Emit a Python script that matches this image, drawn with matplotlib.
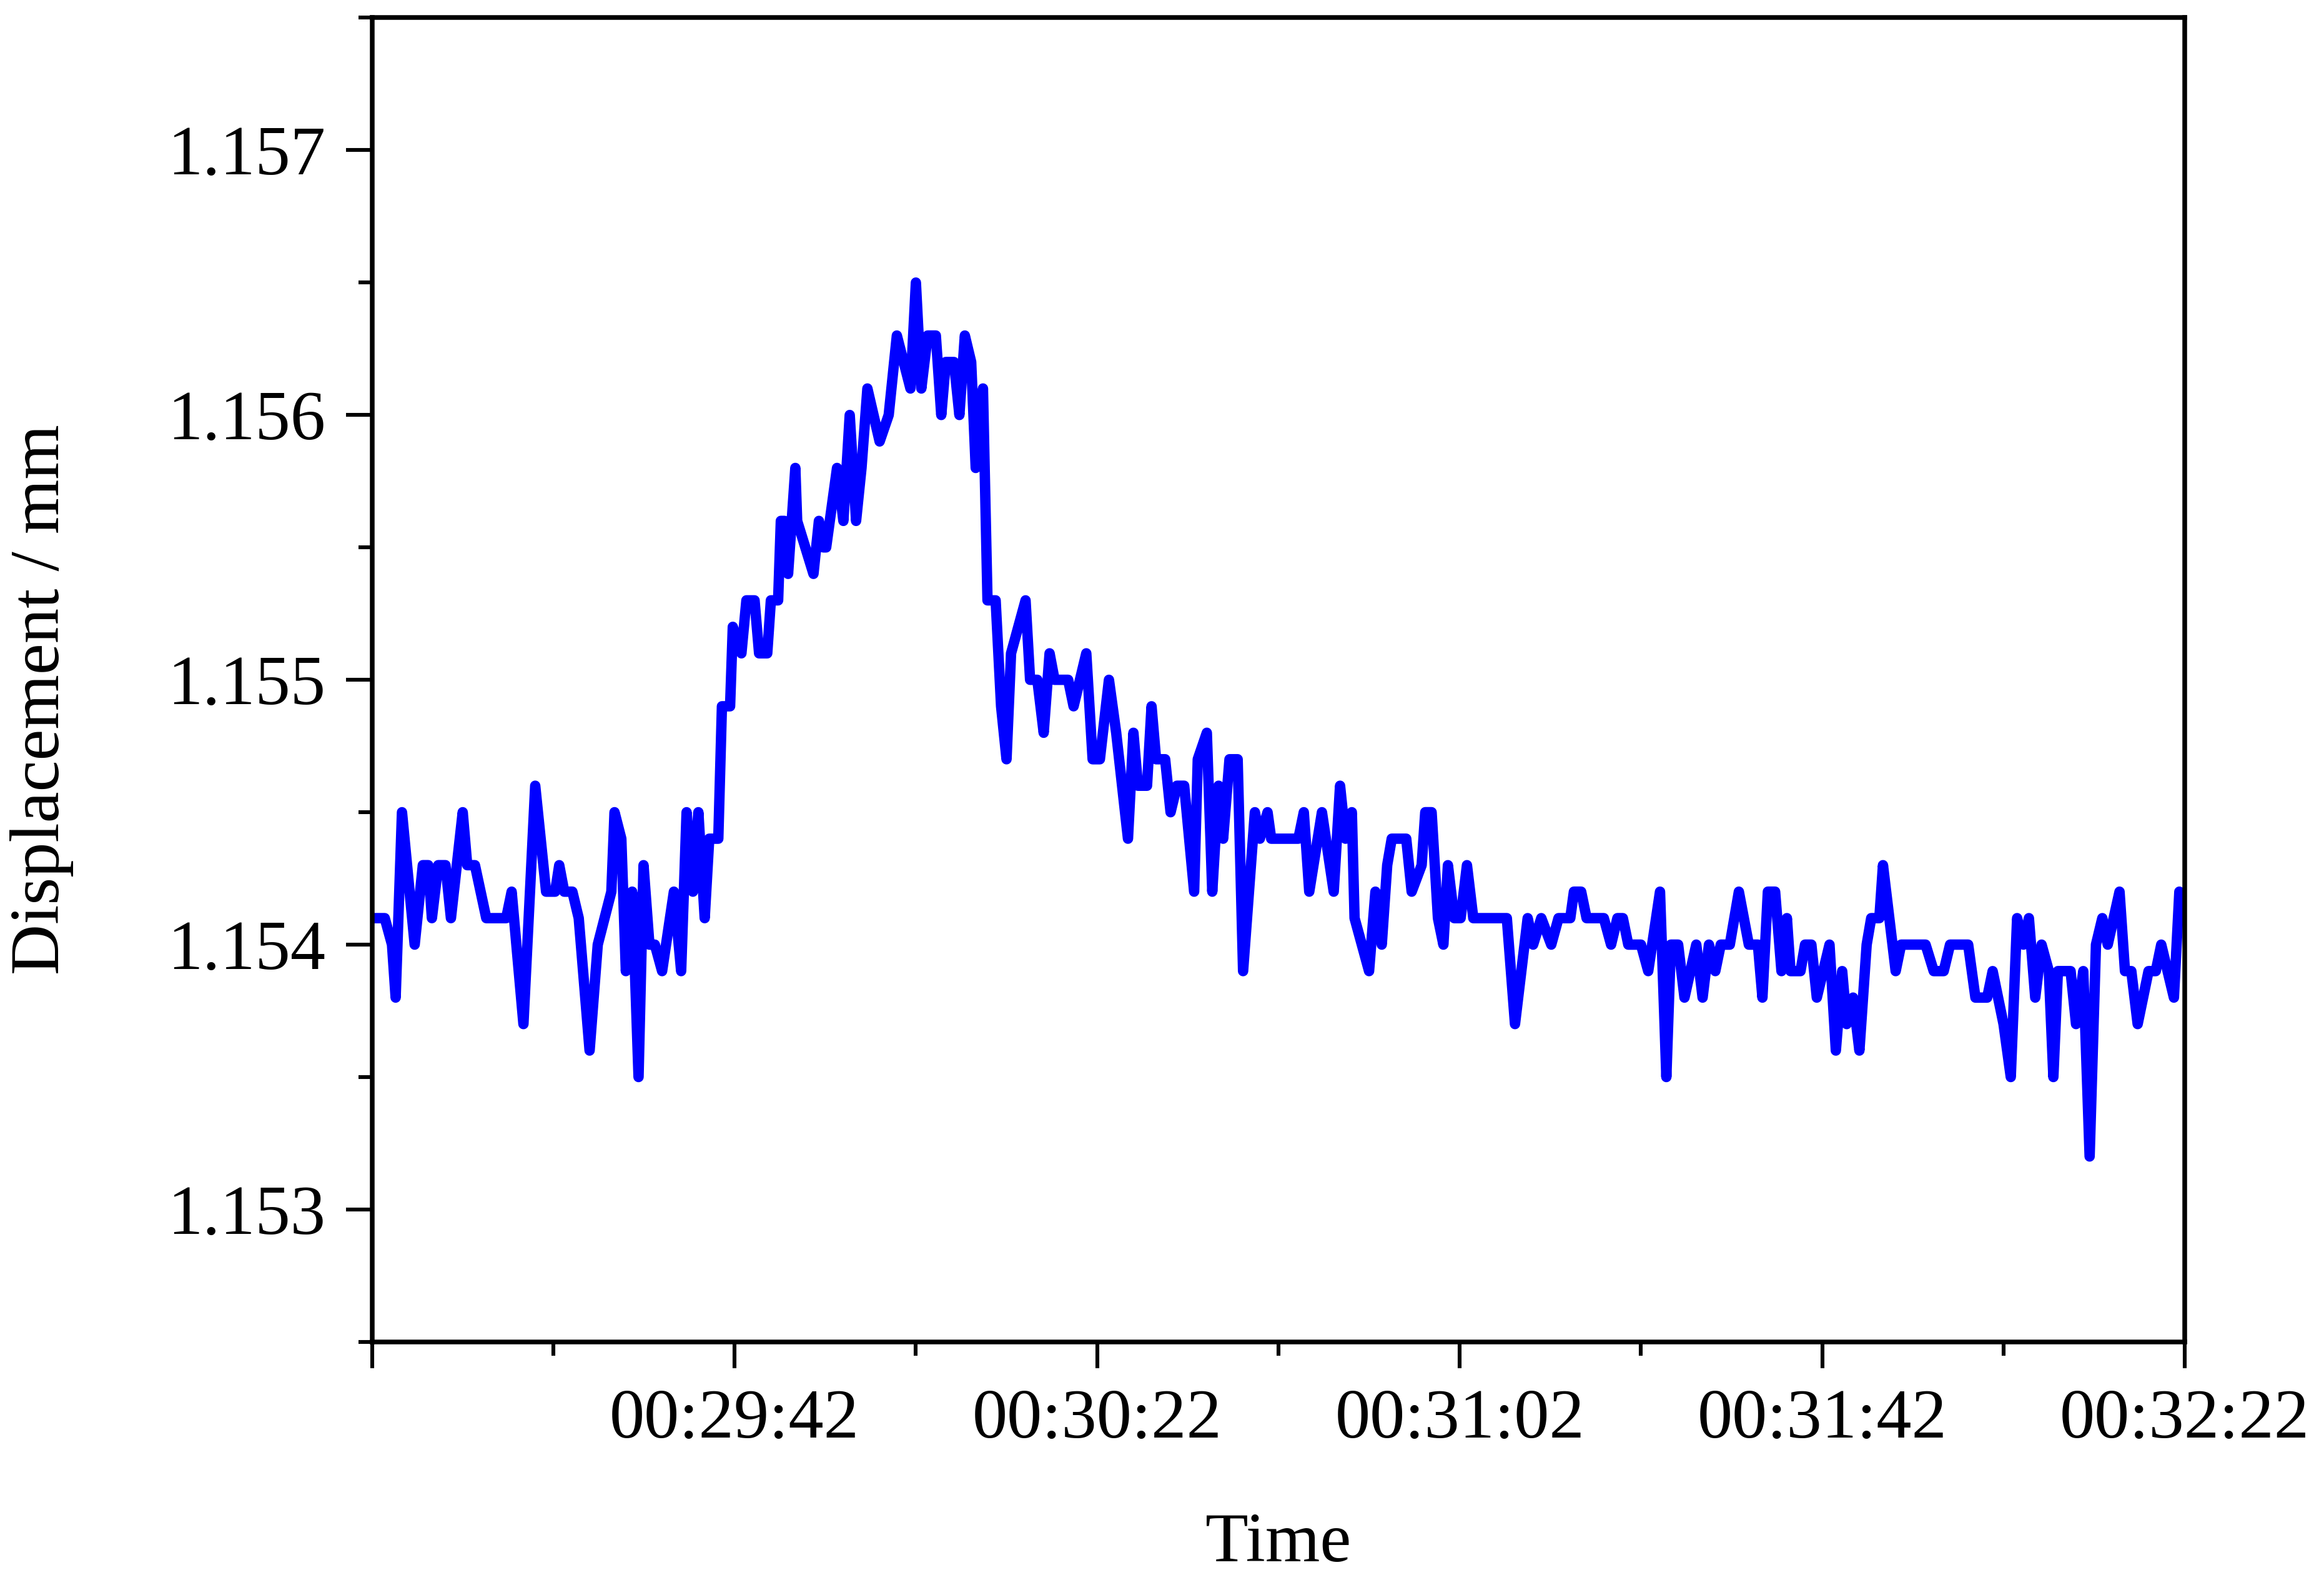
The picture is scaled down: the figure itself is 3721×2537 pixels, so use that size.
import matplotlib
matplotlib.use("Agg")
import matplotlib.pyplot as plt
from matplotlib.ticker import FixedLocator, MultipleLocator, FormatStrFormatter

# seconds after 00:29:02
seconds = [
    0.0, 1.4, 2.2, 2.6, 3.3, 4.7, 5.6, 6.2, 6.6, 7.3, 8.1, 8.7, 10.0, 10.5, 11.35, 12.6, 14.8, 15.4, 16.7, 18.0,
    19.2, 20.2, 20.65, 21.2, 22.1, 22.8, 24.0,
    24.9, 26.4, 26.75, 27.5, 28.0, 28.7, 29.4, 29.95, 30.6, 31.2, 32.0, 33.3, 34.1, 34.7, 35.4, 36.0, 36.7, 37.2,
    38.2, 38.6, 39.5, 39.8, 40.75, 41.3, 42.2, 42.7, 43.6, 44.0, 44.8, 45.1, 45.5, 45.9, 46.7, 46.9, 48.7, 49.3,
    49.8, 50.1,
    51.3, 52.0, 52.7, 53.4, 54.0, 54.65, 56.0, 57.0, 57.9, 59.4, 60.0, 60.6, 61.3, 62.2, 62.8, 63.3, 64.2, 64.8,
    65.4, 66.1, 66.6, 67.4, 67.9, 68.8, 69.4, 70.0, 70.5, 72.1, 72.6, 73.4, 74.1,
    74.75, 75.3, 76.8, 77.4, 78.8, 79.5, 80.3, 81.3, 82.1, 83.4, 84.0, 84.5, 85.5, 86.0, 86.5, 87.5, 88.1, 88.8,
    89.6, 90.7, 91.1, 92.1, 92.7, 93.4, 93.9, 94.6, 95.5, 96.1, 97.4, 97.95, 98.8, 99.2,
    102.2, 102.8, 103.4, 104.8, 106.1, 106.8, 107.4, 108.1, 108.4, 110.0, 110.7, 111.4, 112.0, 112.5, 114.1,
    114.7, 115.8, 116.2, 116.9, 117.6, 118.2, 118.7, 119.4, 120.1, 120.8, 121.5,
    125.2, 126.1, 127.5, 128.1, 129.0, 130.1, 130.9, 132.2, 132.6, 133.4, 134.0, 135.9, 136.7, 137.4, 138.0,
    138.6, 140.0, 140.8, 142.1, 142.8, 143.3, 144.1, 144.8, 146.1, 146.8, 147.5, 148.2, 148.8, 149.8,
    150.8, 151.9, 152.9, 153.4, 154.0, 154.8, 155.5, 156.1, 156.5, 157.6, 158.1, 158.8, 159.4, 160.8, 161.5,
    162.2, 162.7, 163.4, 164.1, 164.9, 165.4, 166.3, 166.7, 168.1, 168.7, 171.4, 172.3, 173.4, 174.1,
    176.1, 176.9, 178.2, 178.8, 180.0, 180.8, 181.5, 182.2, 182.8, 183.5, 184.2, 185.0, 185.5, 186.0, 187.4,
    188.0, 188.8, 189.5, 190.2, 190.9, 191.5, 192.8, 193.4, 194.1, 194.8, 196.0, 196.8, 197.4, 198.8, 199.4, 200.0,
]

displacement = [
    1.1541, 1.1541, 1.1540, 1.1538, 1.1545, 1.1540, 1.1543, 1.1543, 1.1541, 1.1543, 1.1543, 1.1541, 1.1545, 1.1543, 1.1543, 1.1541, 1.1541, 1.1542, 1.1537, 1.1546,
    1.1542, 1.1542, 1.1543, 1.1542, 1.1542, 1.1541, 1.1536,
    1.1540, 1.1542, 1.1545, 1.1544, 1.1539, 1.1542, 1.1535, 1.1543, 1.1540, 1.1540, 1.1539, 1.1542, 1.1539, 1.1545, 1.1542, 1.1545, 1.1541, 1.1544,
    1.1544, 1.1549, 1.1549, 1.1552, 1.1551, 1.1553, 1.1553, 1.1551, 1.1551, 1.1553, 1.1553, 1.1556, 1.1556, 1.1554, 1.1558, 1.1556, 1.1554, 1.1556,
    1.1555, 1.1555,
    1.1558, 1.1556, 1.1560, 1.1556, 1.1558, 1.1561, 1.1559, 1.1560, 1.1563, 1.1561, 1.1565, 1.1561, 1.1563, 1.1563, 1.1560, 1.1562, 1.1562, 1.1560,
    1.1563, 1.1562, 1.1558, 1.1561, 1.1553, 1.1553, 1.1549, 1.1547, 1.1551, 1.1553, 1.1550, 1.1550, 1.1548,
    1.1551, 1.1550, 1.1550, 1.1549, 1.1551, 1.1547, 1.1547, 1.1550, 1.1548, 1.1544, 1.1548, 1.1546, 1.1546, 1.1549, 1.1547, 1.1547, 1.1545, 1.1546,
    1.1546, 1.1542, 1.1547, 1.1548, 1.1542, 1.1546, 1.1544, 1.1547, 1.1547, 1.1539, 1.1545, 1.1544, 1.1545, 1.1544,
    1.1544, 1.1545, 1.1542, 1.1545, 1.1542, 1.1546, 1.1544, 1.1545, 1.1541, 1.1539, 1.1542, 1.1540, 1.1543, 1.1544, 1.1544,
    1.1542, 1.1543, 1.1545, 1.1545, 1.1541, 1.1540, 1.1543, 1.1541, 1.1541, 1.1543, 1.1541,
    1.1541, 1.1537, 1.1541, 1.1540, 1.1541, 1.1540, 1.1541, 1.1541, 1.1542, 1.1542, 1.1541, 1.1541, 1.1540, 1.1541, 1.1541,
    1.1540, 1.1540, 1.1539, 1.1542, 1.1535, 1.1540, 1.1540, 1.1538, 1.1540, 1.1538, 1.1540, 1.1539, 1.1540, 1.1540,
    1.1542, 1.1540, 1.1540, 1.1538, 1.1542, 1.1542, 1.1539, 1.1541, 1.1539, 1.1539, 1.1540, 1.1540, 1.1538, 1.1540, 1.1536,
    1.1539, 1.1537, 1.1538, 1.1536, 1.1540, 1.1541, 1.1541, 1.1543, 1.1539, 1.1540, 1.1540, 1.1539, 1.1539, 1.1540,
    1.1540, 1.1538, 1.1538, 1.1539, 1.1537, 1.1535, 1.1541, 1.1540, 1.1541, 1.1538, 1.1540, 1.1539, 1.1535, 1.1539, 1.1539,
    1.1537, 1.1539, 1.1532, 1.1540, 1.1541, 1.1540, 1.1542, 1.1539, 1.1539, 1.1537, 1.1539, 1.1539, 1.1540, 1.1538, 1.1542, 1.1541,
]

x_ticks = [0, 40, 80, 120, 160, 200]
x_labels = ["", "00:29:42", "00:30:22", "00:31:02", "00:31:42", "00:32:22"]
y_ticks = [1.153, 1.154, 1.155, 1.156, 1.157]

assert len(seconds) == len(displacement)

plt.rcParams["font.family"] = ["Liberation Serif", "DejaVu Serif"]
FS = 81

fig = plt.figure(figsize=(37.21, 25.37), dpi=100)
ax = fig.add_axes([0.1601, 0.1534, 0.7800, 0.8354])

ax.plot(seconds, displacement, color="#0000ff", linewidth=12,
        solid_joinstyle="round", solid_capstyle="round", clip_on=True)

ax.set_xlim(0, 200)
ax.set_ylim(1.1525, 1.1575)

ax.xaxis.set_major_locator(FixedLocator(x_ticks))
ax.set_xticklabels(x_labels)
ax.xaxis.set_minor_locator(MultipleLocator(20))
ax.yaxis.set_major_locator(FixedLocator(y_ticks))
ax.yaxis.set_major_formatter(FormatStrFormatter("%.3f"))
ax.yaxis.set_minor_locator(MultipleLocator(0.0005))

for side in ["left", "right", "top", "bottom"]:
    ax.spines[side].set_linewidth(5.4)

ax.tick_params(axis="x", which="major", direction="out", length=30, width=4.4,
               labelsize=FS, pad=24)
ax.tick_params(axis="x", which="minor", direction="out", length=16, width=4.4)
ax.tick_params(axis="y", which="major", direction="out", length=30, width=4.4,
               labelsize=FS, pad=24)
ax.tick_params(axis="y", which="minor", direction="out", length=16, width=4.4)
ax.tick_params(top=False, right=False, which="both")

ax.set_xlabel("Time", fontsize=FS, va="center")
ax.xaxis.set_label_coords(0.5, -0.153)
ax.set_ylabel("Displacement / mm", fontsize=FS, va="center")
ax.yaxis.set_label_coords(-0.1823, 0.485)

fig.savefig("out.png", dpi=100, facecolor="white")
